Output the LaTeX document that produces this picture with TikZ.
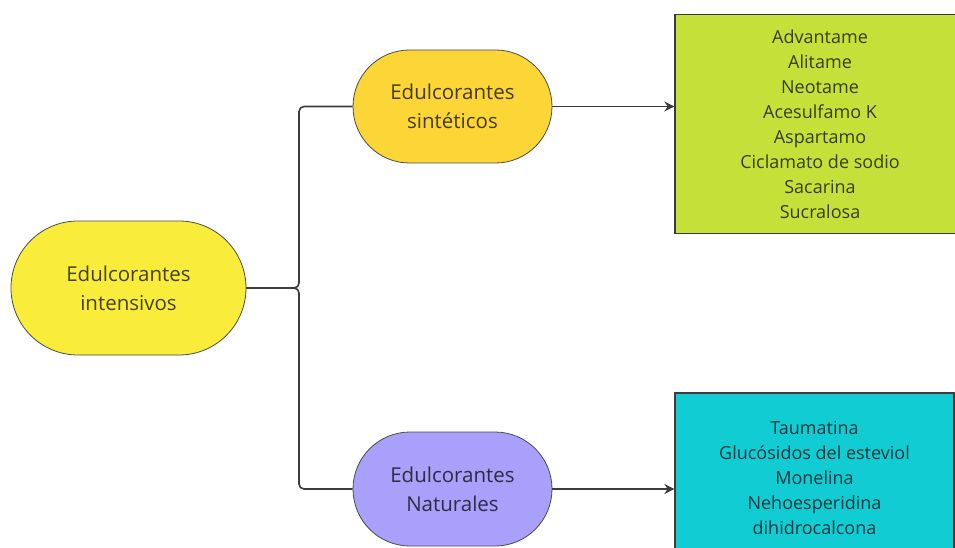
\documentclass[tikz,border=0pt]{standalone}
\usepackage{fontspec}
\setmainfont{Open Sans}
\usetikzlibrary{arrows.meta,shapes.misc}
\definecolor{yelA}{RGB}{249,236,58}
\definecolor{yelB}{RGB}{252,213,54}
\definecolor{purp}{RGB}{168,160,250}
\definecolor{lime}{RGB}{198,224,58}
\definecolor{cyanbox}{RGB}{18,204,212}
\definecolor{linec}{RGB}{60,60,60}
\tikzset{
  pill/.style={rounded rectangle, draw=black!70, line width=0.8pt, align=center,
    text=black, text opacity=0.72, font=\fontsize{20.5}{29}\selectfont, inner sep=0pt},
  listbox/.style={rectangle, draw=linec, line width=1.3pt, align=center,
    text=black, text opacity=0.72, font=\fontsize{18}{25}\selectfont, inner sep=0pt},
  conn/.style={draw=linec, line width=1.6pt, rounded corners=5pt},
  arr/.style={conn, -{Stealth[length=10pt,width=10pt]}}
}
\begin{document}
\begin{tikzpicture}[x=1pt,y=-1pt]
\clip (0,0) rectangle (955,548);
\fill[white] (0,0) rectangle (955,548);
\node[pill, fill=yelA, minimum width=235, minimum height=134] (L) at (128.5,288) {Edulcorantes\\intensivos};
\node[pill, fill=yelB, minimum width=199, minimum height=113] (T) at (452.5,106.5) {Edulcorantes\\sintéticos};
\node[pill, fill=purp, minimum width=199, minimum height=114] (B) at (452.5,489) {Edulcorantes\\Naturales};
\node[listbox, fill=lime, minimum width=290, minimum height=219] (G) at (820,124) {Advantame\\Alitame\\Neotame\\Acesulfamo K\\Aspartamo\\Ciclamato de sodio\\Sacarina\\Sucralosa};
\node[listbox, fill=cyanbox, minimum width=279, minimum height=170] (C) at (814.5,478) {Taumatina\\Glucósidos del esteviol\\Monelina\\Nehoesperidina\\dihidrocalcona};
\coordinate (J) at (299,288);
\draw[conn] (L.east) -- (J) |- (T.west);
\draw[conn] (L.east) -- (J) |- (B.west);
\draw[arr] (T.east) -- (T.east -| G.west);
\draw[arr] (B.east) -- (B.east -| C.west);
\end{tikzpicture}
\end{document}
